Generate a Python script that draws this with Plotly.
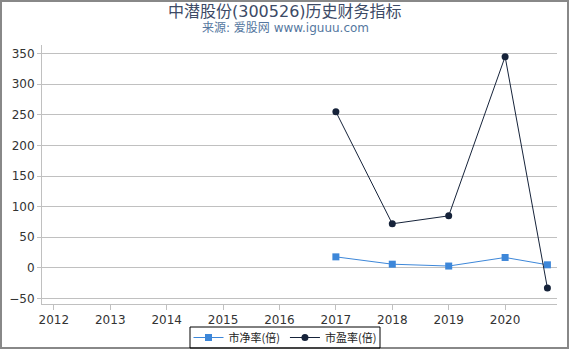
import plotly.graph_objects as go

years = [2017, 2018, 2019, 2020, 2020.75]
pb = [18, 6, 3, 17, 5]
pe = [255, 72, 85, 345, -33]
tick_years = [2012, 2013, 2014, 2015, 2016, 2017, 2018, 2019, 2020]

fig = go.Figure()
fig.add_trace(go.Scatter(x=years, y=pb, mode="lines+markers", name="市净率(倍)",
                         line=dict(color="#3d87d9", width=1),
                         marker=dict(symbol="square", size=7, color="#3d87d9")))
fig.add_trace(go.Scatter(x=years, y=pe, mode="lines+markers", name="市盈率(倍)",
                         line=dict(color="#16233a", width=1),
                         marker=dict(symbol="circle", size=7, color="#16233a")))

W = 515.0
H = 259.0
cx = (285 - 42) / W


def px_x(p):
    return (p - 42) / W


def px_y(p):
    return (304 - p) / H


fig.update_layout(
    width=570, height=350,
    margin=dict(l=42, r=13, t=45, b=46, autoexpand=False),
    paper_bgcolor="white", plot_bgcolor="white",
    font=dict(family="DejaVu Sans, Noto Sans CJK SC", size=12, color="#333333"),
    showlegend=True,
    legend=dict(orientation="h", x=cx, xanchor="center", y=px_y(337.5), yanchor="middle",
                borderwidth=0, bgcolor="rgba(0,0,0,0)",
                font=dict(family="Noto Sans CJK SC", size=11, color="#222222"),
                tracegroupgap=0),
    xaxis=dict(range=[2011.79, 2020.92], tickmode="array", tickvals=tick_years,
               ticktext=[str(y) for y in tick_years],
               showgrid=False, zeroline=False, showline=True, linecolor="#c0c0c0",
               ticks="outside", ticklen=5, tickcolor="#c0c0c0",
               tickfont=dict(size=12, color="#333333")),
    yaxis=dict(range=[-59, 364], tickvals=[-50, 0, 50, 100, 150, 200, 250, 300, 350],
               showgrid=True, gridcolor="#c0c0c0", gridwidth=1, zeroline=False,
               showline=True, linecolor="#c0c0c0",
               ticks="outside", ticklen=4, tickcolor="#c0c0c0",
               tickfont=dict(size=12, color="#333333")),
    annotations=[
        dict(text="中潜股份(300526)历史财务指标", x=cx, xref="paper", y=1 + 34 / H, yref="paper",
             yanchor="middle", xanchor="center", showarrow=False,
             font=dict(family="DejaVu Sans, Noto Sans CJK SC", size=16, color="#3c4a66")),
        dict(text="来源: 爱股网 www.iguuu.com", x=cx, xref="paper", y=1 + 17 / H, yref="paper",
             yanchor="middle", xanchor="center", showarrow=False,
             font=dict(family="DejaVu Sans, Noto Sans CJK SC", size=12, color="#5577a0")),
    ],
    shapes=[
        dict(type="rect", xref="paper", yref="paper", x0=px_x(1), x1=px_x(568),
             y0=px_y(348), y1=px_y(1), line=dict(color="#888888", width=2)),
        dict(type="rect", xref="paper", yref="paper", x0=px_x(190), x1=px_x(380),
             y0=px_y(348), y1=px_y(327), line=dict(color="#000000", width=1)),
    ],
)

fig.write_html("out.html")
